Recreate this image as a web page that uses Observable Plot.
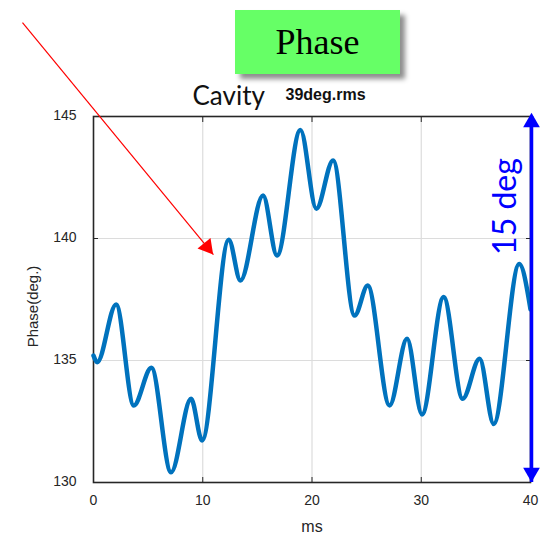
<!DOCTYPE html>
<html>
<head>
<meta charset="utf-8">
<script src="https://cdn.jsdelivr.net/npm/d3@7"></script>
<script src="https://cdn.jsdelivr.net/npm/@observablehq/plot@0.6"></script>
<style>
  html, body { margin: 0; padding: 0; background: #fff; }
  #wrap { position: relative; width: 540px; height: 534px; overflow: hidden; }
  #badge {
    position: absolute; left: 235px; top: 10px; width: 165px; height: 64px;
    background: #66ff66; box-shadow: 5px 5px 5px rgba(0,0,0,0.45);
    display: flex; align-items: center; justify-content: center;
    font-family: "Liberation Serif", "Times New Roman", serif; font-size: 36px; color: #000;
  }
  #chart { position: absolute; left: 0; top: 0; }
</style>
</head>
<body>
<div id="wrap">
  <div id="chart"></div>
  <div id="badge">Phase</div>
</div>
<script>
// Cavity phase trace (ms, degrees)
const timeMs = [0, 0.34, 2.07, 3.69, 5.3, 7.1, 8.93, 9.94, 12.38, 13.45, 15.52, 16.8, 18.94, 20.4, 21.93, 23.9, 25.1, 27.1, 28.7, 30.07, 32.05, 33.79, 35.34, 36.63, 38.97, 40];
const phaseDeg = [135.2, 134.93, 137.3, 133.16, 134.7, 130.42, 133.43, 131.72, 139.95, 138.28, 141.76, 139.3, 144.45, 141.22, 143.2, 136.84, 138.07, 133.16, 135.89, 132.79, 137.6, 133.43, 135.07, 132.4, 138.95, 137.1];

const xTicks = [0, 10, 20, 30, 40];
const yTicks = [130, 135, 140, 145];
const xGrid = [10, 20, 30];
const yGrid = [135, 140];

// Pointer annotation (ms, degrees): tail and tip
const pointerFrom = [-6.5, 148.85];
const pointerTo = [10.98, 139.34];
// Span marker over the full phase range
const spanRange = [130, 145];
const spanLabel = "15 deg";

const trace = timeMs.map((t, i) => ({t, phase: phaseDeg[i]}));
const axisFont = "'Liberation Sans', Arial, sans-serif";

const chart = Plot.plot({
  width: 540,
  height: 534,
  marginLeft: 93,
  marginRight: 10,
  marginTop: 116,
  marginBottom: 52,
  style: {
    fontFamily: axisFont,
    color: "#262626",
    background: "white",
    overflow: "visible"
  },
  x: {domain: [0, 40], axis: null},
  y: {domain: [130, 145], axis: null},
  marks: [
    Plot.gridX(xGrid, {stroke: "#dcdcdc", strokeOpacity: 1, strokeWidth: 1.2}),
    Plot.gridY(yGrid, {stroke: "#dcdcdc", strokeOpacity: 1, strokeWidth: 1.2}),
    // tick labels
    Plot.text(xTicks, {x: d => d, frameAnchor: "bottom", textAnchor: "middle", lineAnchor: "middle", dy: 18, fontSize: 14, fill: "#262626"}),
    Plot.text(yTicks, {y: d => d, frameAnchor: "left", textAnchor: "end", lineAnchor: "middle", dx: -17, dy: -1, fontSize: 14, fill: "#262626"}),
    // inward ticks on all four sides
    Plot.axisX(xTicks, {anchor: "bottom", tickSize: -5, text: null, label: null, stroke: "#262626"}),
    Plot.axisX(xTicks, {anchor: "top", tickSize: -5, text: null, label: null, stroke: "#262626"}),
    Plot.axisY(yTicks, {anchor: "left", tickSize: -5, text: null, label: null, stroke: "#262626"}),
    Plot.axisY(yTicks, {anchor: "right", tickSize: -5, text: null, label: null, stroke: "#262626"}),
    Plot.frame({stroke: "#262626", strokeWidth: 1.6}),
    Plot.text(["ms"], {frameAnchor: "bottom", textAnchor: "middle", lineAnchor: "middle", dy: 44, fontSize: 16, fill: "#262626"}),
    Plot.text(["Phase(deg.)"], {frameAnchor: "left", textAnchor: "middle", lineAnchor: "middle", dx: -60, dy: 7, rotate: -90, fontSize: 15, fill: "#262626"}),
    Plot.text(["Cavity"], {frameAnchor: "top-left", textAnchor: "start", dx: 99, dy: -12, lineAnchor: "bottom", fontFamily: "Lato, 'Open Sans', sans-serif", fontSize: 26, fill: "#111"}),
    Plot.text(["39deg.rms"], {frameAnchor: "top-left", dx: 192, dy: -17, lineAnchor: "bottom", textAnchor: "start", fontWeight: "bold", fontSize: 16, fill: "#111"}),
    Plot.line(trace, {x: "t", y: "phase", curve: "monotone-x", stroke: "#0072BD", strokeWidth: 4.5, strokeLinejoin: "round", strokeLinecap: "round"}),
    // blue span arrow
    Plot.ruleX([40], {y1: spanRange[0], y2: spanRange[1], dx: 1, stroke: "#0000ff", strokeWidth: 3.5}),
    Plot.dot([spanRange[1]], {x: () => 40, y: d => d, dx: 1, dy: 6, symbol: "triangle", r: 6.2, fill: "#0000ff", stroke: "none"}),
    Plot.dot([spanRange[0]], {x: () => 40, y: d => d, dx: 1, dy: -10, symbol: "triangle", rotate: 180, r: 6.2, fill: "#0000ff", stroke: "none"}),
    Plot.text([spanLabel], {frameAnchor: "right", textAnchor: "middle", lineAnchor: "middle", dx: -25, dy: -93, rotate: -90, fontFamily: "Lato, 'Open Sans', sans-serif", fontSize: 32, fill: "#0000ff"}),
    // red pointer
    Plot.link([0], {x1: () => pointerFrom[0], y1: () => pointerFrom[1], x2: () => pointerTo[0], y2: () => pointerTo[1], stroke: "#ff0000", strokeWidth: 1.2}),
    Plot.dot([0], {x: () => pointerTo[0], y: () => pointerTo[1], dx: -6.4, dy: -7.7, symbol: "triangle", rotate: 141, r: 6.2, fill: "#ff0000", stroke: "none"})
  ]
});

document.getElementById("chart").append(chart);
</script>
</body>
</html>
